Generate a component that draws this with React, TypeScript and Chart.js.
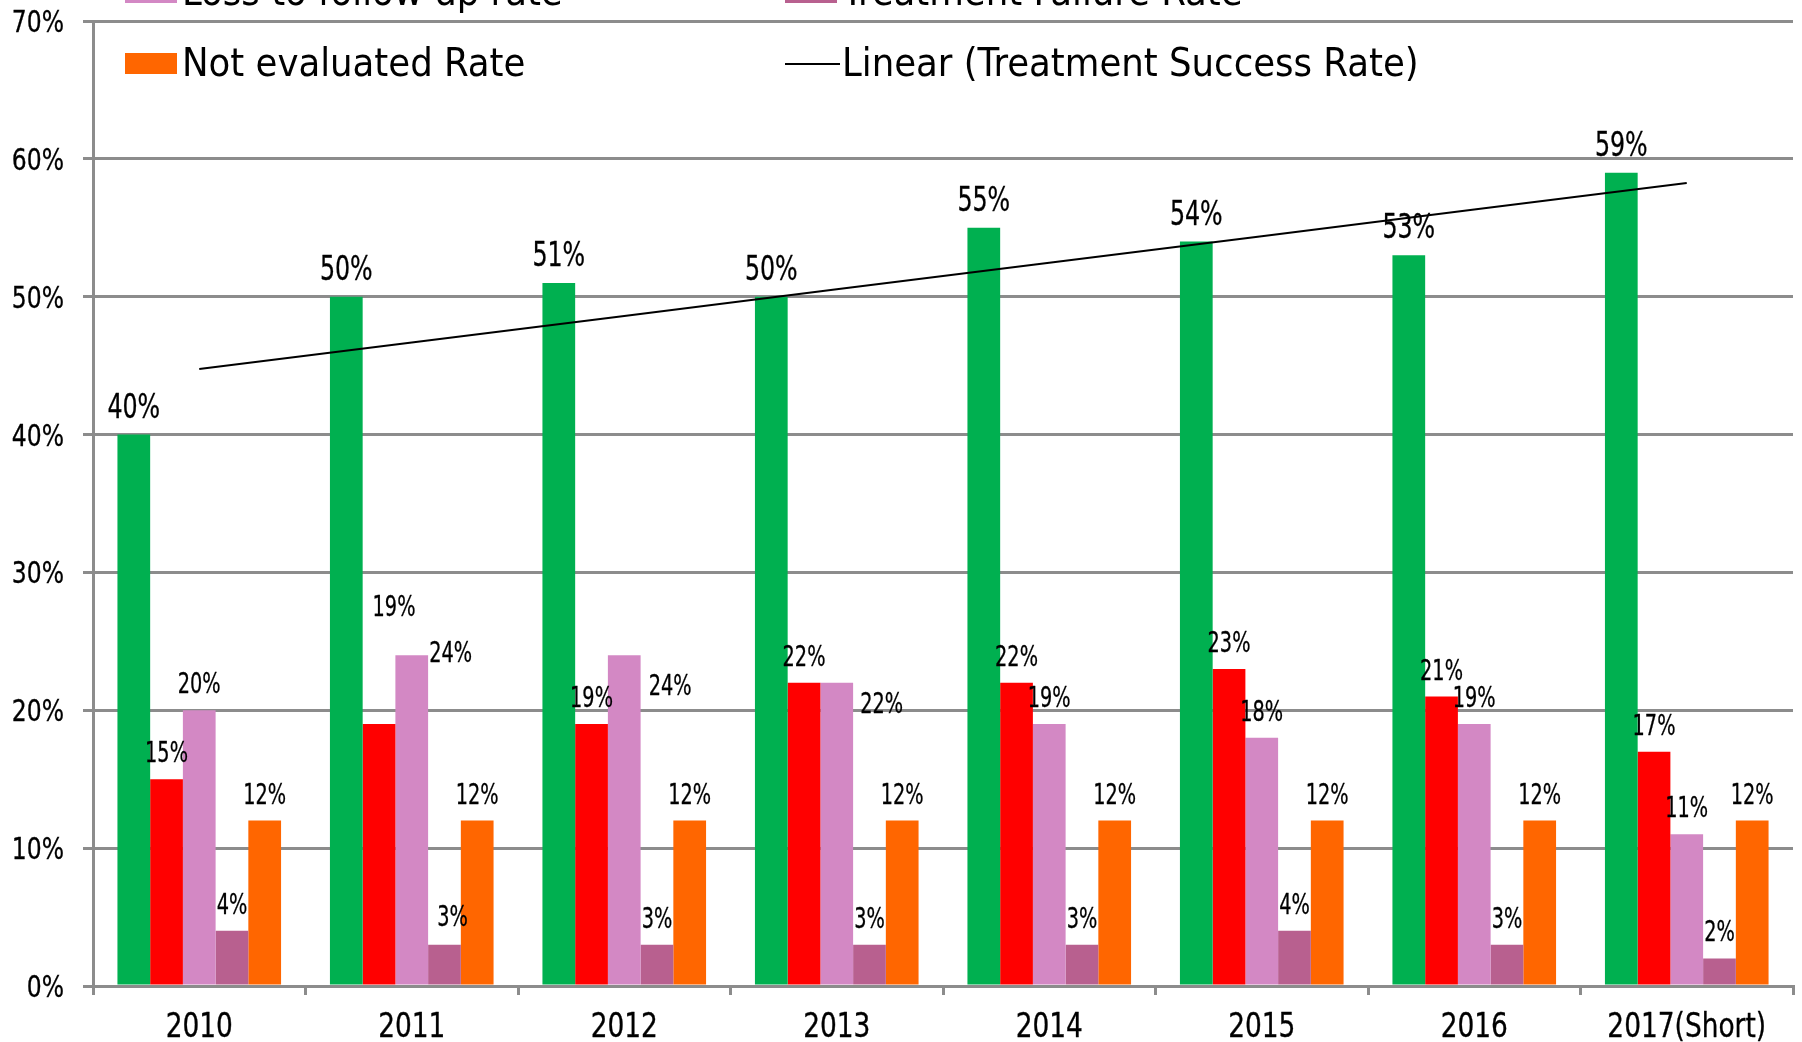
import React, { useEffect, useRef } from 'react';
import { Chart, registerables } from 'chart.js';

Chart.register(...registerables);

const categories = ['2010', '2011', '2012', '2013', '2014', '2015', '2016', '2017(Short)'];
const successRate = [40, 50, 51, 50, 55, 54, 53, 59];
const deathRate = [15, 19, 19, 22, 22, 23, 21, 17];
const lossRate = [20, 24, 24, 22, 19, 18, 19, 11];
const failureRate = [4, 3, 3, 3, 3, 4, 3, 2];
const notEvaluatedRate = [12, 12, 12, 12, 12, 12, 12, 12];
const yTicks = [0, 10, 20, 30, 40, 50, 60, 70];
const seriesNames = [
  'Treatment Success Rate',
  'Death Rate',
  'Loss to follow up rate',
  'Treatment Failure Rate',
  'Not evaluated Rate',
];
const trendName = 'Linear (Treatment Success Rate)';

const seriesColors = ['#00B050', '#FF0000', '#D388C4', '#B8608F', '#FF6600'];
const GRID = '#8C8C8C';
const FONT = '"DejaVu Sans Condensed", "DejaVu Sans", sans-serif';

// manual label shifts (px) for labels that were moved in the original
const labelShifts: Record<string, [number, number]> = {
  '1-1': [15, -91],
  '2-1': [39, 24],
  '3-1': [8, -2],
  '2-2': [46, 57],
  '2-3': [45, 47],
};

function linearTrend(vals: number[]): number[] {
  const n = vals.length;
  const mx = (n - 1) / 2;
  const my = vals.reduce((a, b) => a + b, 0) / n;
  let sxy = 0;
  let sxx = 0;
  vals.forEach((v, i) => {
    sxy += (i - mx) * (v - my);
    sxx += (i - mx) * (i - mx);
  });
  const slope = sxy / sxx;
  return vals.map((_, i) => my + slope * (i - mx));
}

function narrowText(
  ctx: CanvasRenderingContext2D,
  text: string,
  x: number,
  y: number,
  size: number,
  sx: number,
  align: CanvasTextAlign
) {
  ctx.save();
  ctx.font = `${size}px ${FONT}`;
  ctx.textAlign = align;
  ctx.textBaseline = 'alphabetic';
  ctx.fillStyle = '#000';
  ctx.strokeStyle = '#000';
  ctx.lineWidth = 0.3;
  ctx.lineJoin = 'round';
  ctx.translate(x, y);
  ctx.scale(sx, 1);
  ctx.fillText(text, 0, 0);
  ctx.strokeText(text, 0, 0);
  ctx.restore();
}

const labelPlugin = {
  id: 'valueLabels',
  afterDatasetsDraw(chart: any) {
    const ctx = chart.ctx;
    for (let d = 0; d < 5; d++) {
      const meta = chart.getDatasetMeta(d);
      const vals = chart.data.datasets[d].data as number[];
      const size = d === 0 ? 33 : 27.5;
      const sx = d === 0 ? 0.8 : 0.78;
      meta.data.forEach((el: any, i: number) => {
        const sh = labelShifts[`${d}-${i}`] || [0, 0];
        narrowText(ctx, `${vals[i]}%`, el.x + sh[0], el.y - 17 + sh[1], size, sx, 'center');
      });
    }
  },
};

const axisLabelPlugin = {
  id: 'axisLabels',
  afterDraw(chart: any) {
    const ctx = chart.ctx;
    const ys = chart.scales.y;
    const xs = chart.scales.x;
    yTicks.forEach((v) => {
      narrowText(ctx, `${v}%`, 64, ys.getPixelForValue(v) + 11, 30, 0.87, 'right');
    });
    categories.forEach((c, i) => {
      narrowText(ctx, c, xs.getPixelForValue(i), xs.top + 51, 33, 0.89, 'center');
    });
  },
};

const legendPlugin = {
  id: 'customLegend',
  afterDraw(chart: any) {
    const ctx = chart.ctx;
    ctx.save();
    ctx.font = `39.5px ${FONT}`;
    ctx.textBaseline = 'alphabetic';
    ctx.textAlign = 'left';
    const colX = [125, 785];
    const textX = [182, 842];
    const baseY = [-66, 5, 76];
    const entries: { name: string; color: string; line?: boolean }[] = [
      ...seriesNames.map((n, i) => ({ name: n, color: seriesColors[i] })),
      { name: trendName, color: '#000', line: true },
    ];
    entries.forEach((e, k) => {
      const col = k % 2;
      const row = Math.floor(k / 2);
      const b = baseY[row];
      if (e.line) {
        ctx.strokeStyle = e.color;
        ctx.lineWidth = 2;
        ctx.beginPath();
        ctx.moveTo(colX[col], b - 12);
        ctx.lineTo(colX[col] + 55, b - 12);
        ctx.stroke();
      } else {
        ctx.fillStyle = e.color;
        ctx.fillRect(colX[col], b - 23, 52, 21);
      }
      ctx.fillStyle = '#000';
      ctx.fillText(e.name, textX[col], b);
    });
    ctx.restore();
  },
};

export default function App() {
  const ref = useRef<HTMLCanvasElement | null>(null);

  useEffect(() => {
    document.body.style.margin = '0';
    if (!ref.current) return;
    const trend = linearTrend(successRate);
    const barData = [successRate, deathRate, lossRate, failureRate, notEvaluatedRate];
    const chart = new Chart(ref.current, {
      type: 'bar',
      data: {
        labels: categories,
        datasets: [
          ...barData.map((d, i) => ({
            type: 'bar' as const,
            label: seriesNames[i],
            data: d,
            backgroundColor: seriesColors[i],
            borderWidth: 0,
            categoryPercentage: 0.77,
            barPercentage: 1.0,
            order: 1,
          })),
          {
            type: 'line' as const,
            label: trendName,
            data: trend,
            borderColor: '#000',
            borderWidth: 2,
            pointRadius: 0,
            fill: false,
            tension: 0,
            order: 0,
          },
        ] as any,
      },
      options: {
        animation: false,
        responsive: true,
        maintainAspectRatio: false,
        layout: { padding: { top: 21, right: 9, left: 0, bottom: 0 } },
        plugins: {
          legend: { display: false },
          tooltip: { enabled: false },
        },
        scales: {
          x: {
            offset: true,
            grid: {
              display: true,
              offset: true,
              drawOnChartArea: false,
              drawTicks: true,
              tickLength: 9,
              color: GRID,
              lineWidth: 3,
            },
            border: { color: GRID, width: 3 },
            ticks: {
              color: 'rgba(0,0,0,0)',
              font: { family: FONT, size: 28 },
              padding: 6,
              maxRotation: 0,
            },
            afterFit: (s: any) => {
              s.height = 56;
              s.paddingLeft = 0;
              s.paddingRight = 0;
            },
          },
          y: {
            min: 0,
            max: 70,
            afterBuildTicks: (s: any) => {
              s.ticks = yTicks.map((v) => ({ value: v }));
            },
            grid: {
              color: GRID,
              lineWidth: 3,
              drawTicks: true,
              tickLength: 10,
            },
            border: { color: GRID, width: 3 },
            ticks: {
              color: 'rgba(0,0,0,0)',
              font: { family: FONT, size: 26 },
              padding: 19,
              callback: (v: any) => `${v}%`,
            },
            afterFit: (s: any) => {
              s.width = 93;
              s.paddingTop = 0;
              s.paddingBottom = 0;
            },
          },
        },
      },
      plugins: [labelPlugin, axisLabelPlugin, legendPlugin],
    });
    return () => chart.destroy();
  }, []);

  return (
    <div style={{ position: 'fixed', left: 0, top: 0, width: 1802, height: 1042, background: '#fff' }}>
      <canvas ref={ref} />
    </div>
  );
}
